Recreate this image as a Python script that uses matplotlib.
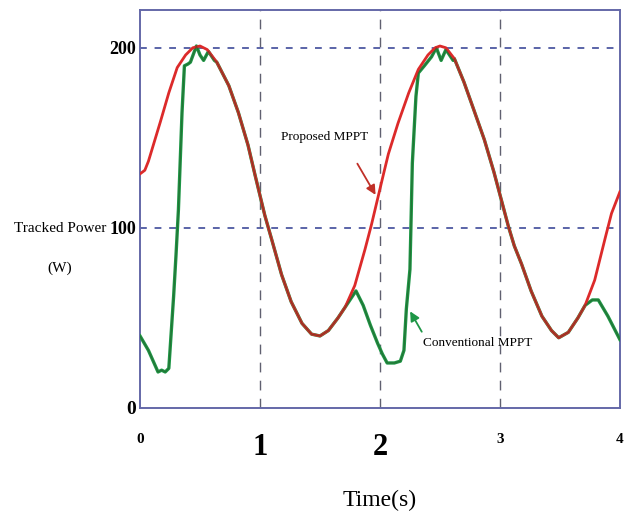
import matplotlib
matplotlib.use('Agg')
import matplotlib.pyplot as plt

# Proposed MPPT: tracked power (W) against time (s)
proposed_t = [0.00, 0.04, 0.07, 0.12, 0.17, 0.24, 0.31, 0.38, 0.44, 0.50,
              0.56, 0.64, 0.74, 0.82, 0.90, 0.96, 1.04, 1.10, 1.18, 1.26,
              1.35, 1.43, 1.50, 1.57, 1.65, 1.71, 1.79, 1.875, 1.93, 1.98,
              2.03, 2.07, 2.15, 2.24, 2.32, 2.40, 2.46, 2.50, 2.55, 2.62,
              2.70, 2.78, 2.87, 2.95, 3.01, 3.07, 3.12, 3.18, 3.26, 3.35,
              3.43, 3.49, 3.57, 3.65, 3.71, 3.79, 3.88, 3.93, 4.00]
proposed_p = [130, 132, 137, 148, 159, 175, 189, 196, 200, 201,
              199, 192, 179, 164, 146, 129, 107, 93, 74, 59,
              47, 41, 40, 43, 50, 56, 68, 88, 102, 116,
              130, 141, 158, 175, 188, 196, 200, 201, 200, 194,
              181, 166, 149, 131, 116, 101, 90, 80, 65, 51,
              43, 39, 42, 50, 57, 71, 95, 108, 120]

# Conventional MPPT
conv_t = [0.00, 0.07, 0.15, 0.18, 0.21, 0.24, 0.25, 0.28, 0.30, 0.32,
          0.35, 0.37, 0.40, 0.42, 0.47, 0.50, 0.53, 0.57, 0.62, 0.64,
          0.74, 0.82, 0.90, 0.96, 1.04, 1.10, 1.18, 1.26, 1.35, 1.43,
          1.50, 1.57, 1.65, 1.71, 1.80, 1.86, 1.92, 1.98, 2.02, 2.06,
          2.12, 2.17, 2.20, 2.22, 2.25, 2.26, 2.27, 2.30, 2.32, 2.37,
          2.43, 2.47, 2.51, 2.55, 2.61, 2.62, 2.70, 2.78, 2.87, 2.95,
          3.01, 3.07, 3.12, 3.18, 3.26, 3.35, 3.43, 3.49, 3.57, 3.65,
          3.71, 3.77, 3.82, 3.90, 4.00]
conv_p = [40, 32, 20, 21, 20, 22, 32, 62, 85, 110,
          164, 190, 191, 192, 201, 196, 193, 198, 193, 192,
          179, 164, 146, 129, 107, 93, 74, 59, 47, 41,
          40, 43, 50, 56, 65, 57, 46, 36, 30, 25,
          25, 26, 32, 55, 77, 106, 136, 173, 186, 190,
          195, 200, 193, 199, 193, 194, 181, 166, 149, 131,
          116, 101, 90, 80, 65, 51, 43, 39, 42, 50,
          57, 60, 60, 51, 38]

x_ticks = [0, 1, 2, 3, 4]
x_tick_sizes = [11, 22, 22, 11, 11]
y_ticks = [0, 100, 200]
y_tick_sizes = [14, 13, 13]

plt.rcParams['font.family'] = ['Liberation Serif', 'DejaVu Serif']

fig = plt.figure(figsize=(6.24, 5.22), dpi=100)
ax = fig.add_axes([0.2244, 0.2184, 0.769, 0.7625])

frame_col = '#6468a8'
red = '#dc2a2a'
green = '#1e9646'

ax.plot(conv_t, conv_p, color=green, lw=2.4, zorder=3)
ax.plot(proposed_t, proposed_p, color=red, lw=2.0, zorder=4)
# thin dark trace where both trackers sit on the same curve
ax.plot(conv_t, conv_p, color='#2a4a20', lw=0.9, alpha=0.45, zorder=5)

ax.set_xlim(0, 4)
ax.set_ylim(0, 221)

for y in [100, 200]:
    ax.axhline(y, color='#5a64a8', lw=1.4, ls=(0, (3.5, 4)), zorder=1)
for x in [1, 2, 3]:
    ax.axvline(x, color='#606070', lw=1.0, ls=(0, (7, 6)), zorder=1)

for s in ax.spines.values():
    s.set_color(frame_col)
    s.set_linewidth(1.4)

ax.set_yticks(y_ticks)
ax.set_yticklabels([str(v) for v in y_ticks])
for lab, fs in zip(ax.get_yticklabels(), y_tick_sizes):
    lab.set_fontsize(fs)
    lab.set_fontweight('bold')
ax.set_xticks(x_ticks)
ax.set_xticklabels([str(v) for v in x_ticks])
for lab, fs in zip(ax.get_xticklabels(), x_tick_sizes):
    lab.set_fontsize(fs)
    lab.set_fontweight('bold')
ax.tick_params(axis='both', length=0)
ax.tick_params(axis='y', pad=3)
ax.tick_params(axis='x', pad=18)

ax.set_xlabel('Time(s)', fontsize=17, labelpad=20)
fig.text(0.096, 0.563, 'Tracked Power', fontsize=11, ha='center', va='center')
fig.text(0.096, 0.487, '(W)', fontsize=11, ha='center', va='center')

ax.text(1.54, 150.5, 'Proposed MPPT', fontsize=9.5, ha='center', va='center')
ax.annotate('', xy=(1.975, 117), xytext=(1.80, 137),
            arrowprops=dict(arrowstyle='-|>', color='#c03028', lw=1.3,
                            mutation_scale=14))
ax.text(2.36, 36, 'Conventional MPPT', fontsize=9.5, ha='left', va='center')
ax.annotate('', xy=(2.24, 55), xytext=(2.36, 41),
            arrowprops=dict(arrowstyle='-|>', color=green, lw=1.3,
                            mutation_scale=14))

fig.savefig('out.png', dpi=100)
